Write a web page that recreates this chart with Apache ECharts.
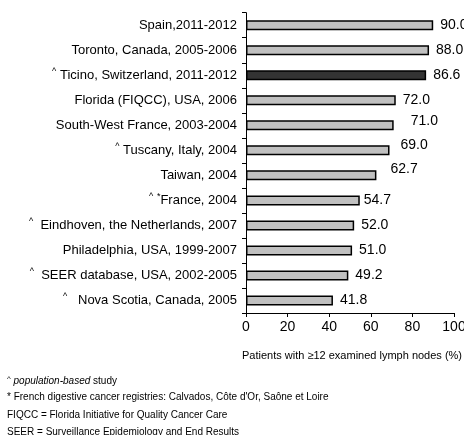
<!DOCTYPE html>
<html>
<head>
<meta charset="utf-8">
<script src="https://cdn.jsdelivr.net/npm/echarts@6/dist/echarts.min.js"></script>
<style>
  html, body { margin: 0; padding: 0; background: #fff; }
  #chart { width: 464px; height: 435px; }
</style>
</head>
<body>
<div id="chart"></div>
<script>
// studies, top to bottom
const studies = [
  'Spain,2011-2012',
  'Toronto, Canada, 2005-2006',
  'Ticino, Switzerland, 2011-2012',
  'Florida (FIQCC), USA, 2006',
  'South-West France, 2003-2004',
  'Tuscany, Italy, 2004',
  'Taiwan, 2004',
  'France, 2004',
  'Eindhoven, the Netherlands, 2007',
  'Philadelphia, USA, 1999-2007',
  'SEER database, USA, 2002-2005',
  'Nova Scotia, Canada, 2005'
]
// prefix marks: ^ = population-based, * = French registries
const marks = ['', '', '^', '', '', '^', '', '^*', '^', '', '^', '^']
const pctNodes = [90.0, 88.0, 86.6, 72.0, 71.0, 69.0, 62.7, 54.7, 52.0, 51.0, 49.2, 41.8]
const highlight = 'Ticino, Switzerland, 2011-2012'
const xTicks = [0, 20, 40, 60, 80, 100]

// a few value labels sit a bit higher/further right in the original
const labelNudge = { 4: [10, -4], 5: [4, -5], 6: [7, -6], 7: [-3, 0] }

const chart = echarts.init(document.getElementById('chart'), null, { renderer: 'canvas' })

const FONT = 'Arial, "Liberation Sans", sans-serif'

function catLabel(v, i) {
  const m = marks[i]
  if (!m) return v
  if (m === '^*') return '{s|^} {s|*}' + v
  if (v.startsWith('Eindhoven') || v.startsWith('SEER')) return '{s|^}  ' + v
  if (v.startsWith('Nova')) return '{s|^}   ' + v
  return '{s|^} ' + v
}

chart.setOption({
  animation: false,
  grid: { left: 246, right: 10, top: 12.7, bottom: 122, outerBoundsMode: 'none', containLabel: false },
  xAxis: {
    type: 'value',
    min: 0,
    max: 100,
    interval: 20,
    name: 'Patients with \u226512 examined lymph nodes (%)',
    nameLocation: 'middle',
    nameGap: 37,
    nameTextStyle: { color: '#000', fontSize: 11, fontFamily: FONT, padding: [0, 0, 0, 4] },
    axisLine: { show: true, lineStyle: { color: '#000', width: 1 } },
    axisTick: { show: true, length: 4, lineStyle: { color: '#000' } },
    axisLabel: {
      color: '#000', fontSize: 14, fontFamily: FONT, margin: 7,
      formatter: (v) => (xTicks.includes(v) ? String(v) : '')
    },
    splitLine: { show: false }
  },
  yAxis: {
    type: 'category',
    inverse: true,
    data: studies,
    axisLine: { show: true, lineStyle: { color: '#000', width: 1 } },
    axisTick: { show: true, length: 4, lineStyle: { color: '#000' } },
    axisLabel: {
      color: '#000', fontSize: 13, fontFamily: FONT, margin: 9,
      formatter: catLabel,
      rich: {
        s: { fontSize: 9, fontFamily: FONT, color: '#000', padding: [0, 0, 7, 0] }
      }
    }
  },
  series: [
    {
      type: 'bar',
      barWidth: 10,
      data: pctNodes.map((v, i) => {
        const d = {
          value: v,
          itemStyle: {
            color: studies[i] === highlight ? '#333333' : '#c0c0c0',
            borderColor: '#000',
            borderWidth: 1.5
          }
        }
        if (labelNudge[i]) d.label = { offset: labelNudge[i] }
        return d
      }),
      label: {
        show: true,
        position: 'right',
        distance: 7,
        color: '#000',
        fontSize: 14,
        fontFamily: FONT,
        formatter: (p) => p.value.toFixed(1)
      }
    }
  ],
  graphic: [
    {
      type: 'text', left: 7, top: 375,
      style: {
        text: '{s|^} {i|population-based} study',
        fill: '#000', fontSize: 10, fontFamily: FONT,
        rich: {
          s: { fontSize: 8, fontFamily: FONT, padding: [0, 0, 5, 0] },
          i: { fontSize: 10, fontStyle: 'italic', fontFamily: FONT }
        }
      }
    },
    {
      type: 'text', left: 7, top: 392,
      style: { text: '* French digestive cancer registries: Calvados, C\u00f4te d\'Or, Sa\u00f4ne et Loire', fill: '#000', fontSize: 10, fontFamily: FONT }
    },
    {
      type: 'text', left: 7, top: 410,
      style: { text: 'FIQCC = Florida Initiative for Quality Cancer Care', fill: '#000', fontSize: 10, fontFamily: FONT }
    },
    {
      type: 'text', left: 7, top: 427,
      style: { text: 'SEER = Surveillance Epidemiology and End Results', fill: '#000', fontSize: 10, fontFamily: FONT }
    }
  ]
})
</script>
</body>
</html>
